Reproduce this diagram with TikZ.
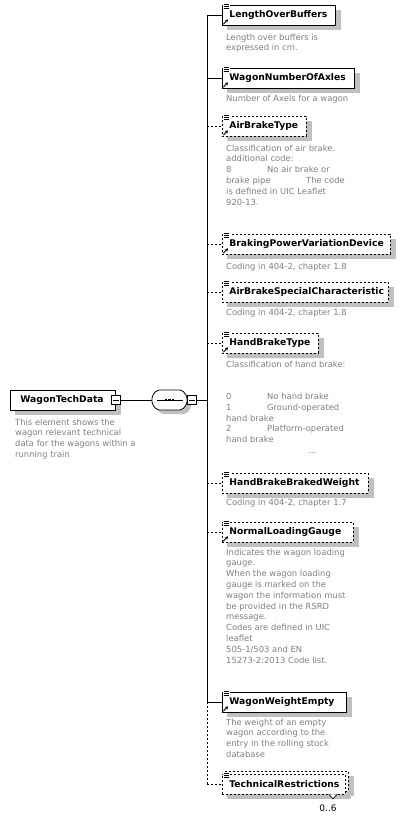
\documentclass[tikz,border=0pt]{standalone}
\usepackage{fontspec}
\setmainfont{DejaVu Sans}
\usetikzlibrary{arrows.meta}
\definecolor{desc}{RGB}{128,128,128}
\definecolor{shad}{RGB}{192,192,192}
\pgfdeclarelayer{bg}
\pgfdeclarelayer{shd}
\pgfsetlayers{bg,shd,main}
\newcommand\docic[1]{%
  \fill[white] ([shift={(1,-0.8)}]#1.north west) rectangle ([shift={(7.5,5)}]#1.north west);
  \foreach \yy in {0,2.1,4.2}
    \draw[line width=0.8pt] ([shift={(1.5,\yy)}]#1.north west) -- ([shift={(7,\yy)}]#1.north west);
}
\newcommand\refic[1]{%
  \draw[line width=0.9pt,-{Stealth[length=3pt,width=3.4pt]}] ([shift={(1.3,-1.3)}]#1.south west) -- ([shift={(6,-6)}]#1.south west);
}
\newcommand\shadowof[1]{%
  \begin{pgfonlayer}{shd}
    \fill[shad] ([shift={(5,5)}]#1.south west) rectangle ([shift={(5,5)}]#1.north east);
  \end{pgfonlayer}
}
\begin{document}
\begin{tikzpicture}[x=1pt,y=-1pt,
  elem/.style={draw, fill=white, line width=0.8pt, anchor=west, minimum height=20pt,
    inner xsep=7pt, inner ysep=0pt, align=left,
    font=\fontsize{9.2}{10}\selectfont\bfseries},
  opt/.style={dash pattern=on 2pt off 2pt},
  dsc/.style={anchor=north west, inner sep=0pt, align=left, text=desc,
    font=\fontsize{8.4}{10.8}\selectfont},
  conn/.style={line width=0.8pt},
  minus/.style={draw, fill=white, line width=0.7pt, minimum width=9pt, minimum height=9pt, inner sep=0pt,
    path picture={\draw[line width=0.7pt] ([xshift=1.5pt]path picture bounding box.west) -- ([xshift=-1.5pt]path picture bounding box.east);}},
]
\begin{pgfonlayer}{bg}
\fill[white] (0,0) rectangle (404,819);
\end{pgfonlayer}
\useasboundingbox (0,0) rectangle (404,819);

% root
\node[elem, text width=85pt, inner xsep=10pt] (root) at (10,400) {WagonTechData};
\node[minus] (rootm) at (root.east) {};
\node[dsc] (droot) at (15,418.5) {This element shows the\\wagon relevant technical\\data for the wagons within a\\running train};

% sequence compositor
\node[minimum width=35pt, minimum height=20pt, inner sep=0pt] (seq) at (169.5,400) {};
\begin{scope}[shift={(seq.center)}]
  \fill[shad, rounded corners=2pt, shift={(4,4)}] (-17.5,-4) -- (-12.5,-10) -- (12.5,-10) -- (17.5,-4) -- (17.5,4) -- (12.5,10) -- (-12.5,10) -- (-17.5,4) -- cycle;
  \draw[fill=white, line width=0.8pt, rounded corners=2pt] (-17.5,-4) -- (-12.5,-10) -- (12.5,-10) -- (17.5,-4) -- (17.5,4) -- (12.5,10) -- (-12.5,10) -- (-17.5,4) -- cycle;
  \draw[line width=0.8pt] (-13,0) -- (13,0);
  \foreach \xx in {-3.4,0,3.4} \fill (\xx-1.2,-1.2) rectangle (\xx+1.2,1.2);
\end{scope}
\node[minus] (seqm) at (191.5,400) {};
\coordinate (bar) at (207,400);

\draw[conn] (rootm.east) -- (seq.west);
\draw[conn] (seqm.east) -- (bar);

% children
\node[elem, text width=99pt] (lob) at (222,15) {LengthOverBuffers};
\node[elem, text width=118pt] (wnoa) at (222,78) {WagonNumberOfAxles};
\node[elem, opt, text width=70pt] (abt) at (222,126) {AirBrakeType};
\node[elem, opt, text width=154pt] (bpvd) at (222,244) {BrakingPowerVariationDevice};
\node[elem, opt, text width=152pt] (absc) at (222,292) {AirBrakeSpecialCharacteristic};
\node[elem, opt, text width=82pt] (hbt) at (222,343) {HandBrakeType};
\node[elem, opt, text width=132pt] (hbbw) at (222,483) {HandBrakeBrakedWeight};
\node[elem, opt, text width=117pt] (nlg) at (222,532) {NormalLoadingGauge};
\node[elem, text width=110pt] (wwe) at (222,702) {WagonWeightEmpty};
\node[elem, opt, text width=109pt] (trb) at (225,781) {\phantom{TechnicalRestrictions}};
\node[elem, opt, text width=109pt] (tr) at (222,784) {TechnicalRestrictions};
\foreach \n in {root,lob,wnoa,abt,bpvd,absc,hbt,hbbw,nlg,wwe,trb,tr} {\shadowof{\n}}
\coordinate (notch) at (tr.south -| 333,0);
\draw[line width=0.7pt, fill=white] ([xshift=-4pt]notch) -- ([yshift=-4.5pt]notch) -- ([xshift=4pt]notch);
\node[font=\fontsize{9}{10}\selectfont, inner sep=0pt] (occ) at (328,808) {0..6};

% icons
\foreach \n in {lob,wnoa,abt,bpvd,absc,hbt,hbbw,nlg,wwe,tr} {\docic{\n}}
\foreach \n in {lob,wnoa,abt,bpvd,hbt,nlg,wwe} {\refic{\n}}

% connectors
\draw[conn] (lob.west -| bar) -- (wwe.west -| bar);
\draw[conn, opt] (wwe.west -| bar) -- (tr.west -| bar);
\foreach \n in {lob,wnoa,wwe} \draw[conn] (\n.west -| bar) -- (\n.west);
\foreach \n in {abt,bpvd,absc,hbt,hbbw,nlg,tr} \draw[conn, opt] (\n.west -| bar) -- (\n.west);

% descriptions
\node[dsc] (dlob) at (226,33.5) {Length over buffers is\\expressed in cm.};
\node[dsc] (dwnoa) at (226,94.5) {Number of Axels for a wagon};
\node[dsc] (dabt) at (226,144.5) {Classification of air brake.\\additional code:\\\makebox[41pt][l]{8}No air brake or\\\makebox[80pt][l]{brake pipe}The code\\is defined in UIC Leaflet\\920-13.};
\node[dsc] (dbpvd) at (226,262.5) {Coding in 404-2, chapter 1.8};
\node[dsc] (dabsc) at (226,308.5) {Coding in 404-2, chapter 1.8};
\node[dsc] (dhbt) at (226,360.5) {Classification of hand brake:\\\mbox{}\\\mbox{}\\\makebox[41pt][l]{0}No hand brake\\\makebox[41pt][l]{1}Ground-operated\\hand brake\\\makebox[41pt][l]{2}Platform-operated\\hand brake\\\hspace*{82pt}...};
\node[dsc] (dhbbw) at (226,498.5) {Coding in 404-2, chapter 1.7};
\node[dsc] (dnlg) at (226,548.5) {Indicates the wagon loading\\gauge.\\When the wagon loading\\gauge is marked on the\\wagon the information must\\be provided in the RSRD\\message.\\Codes are defined in UIC\\leaflet\\505-1/503 and EN\\15273-2:2013 Code list.};
\node[dsc] (dwwe) at (226,718.5) {The weight of an empty\\wagon according to the\\entry in the rolling stock\\database};
\end{tikzpicture}
\end{document}
